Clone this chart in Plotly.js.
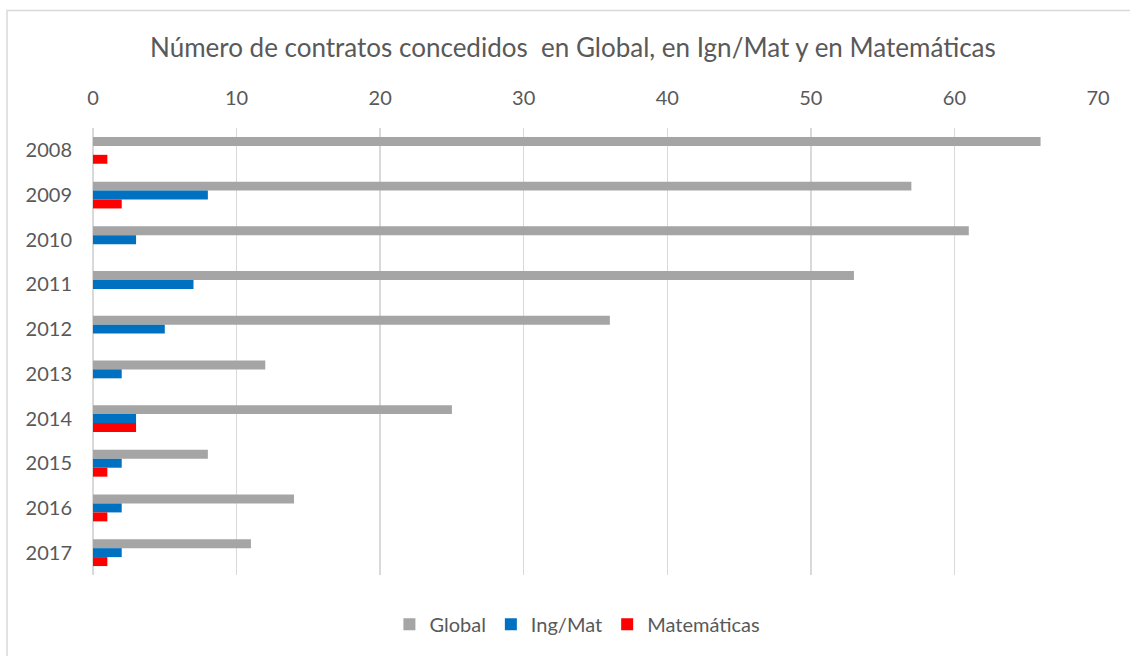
<!DOCTYPE html>
<html><head><meta charset="utf-8">
<script src="https://cdn.plot.ly/plotly-3.0.1.min.js"></script>
<style>body{margin:0;background:#fff}#c{width:1130px;height:656px}</style>
</head><body><div id="c"></div>
<script>
const years = ['2008','2009','2010','2011','2012','2013','2014','2015','2016','2017'];
const globalVals = [66,57,61,53,36,12,25,8,14,11];
const ingMatVals = [0,8,3,7,5,2,3,2,2,2];
const matVals = [1,2,0,0,0,0,3,1,1,1];
const seriesNames = ['Global','Ing/Mat','Matemáticas'];
const colors = ['#A5A5A5','#0070C0','#FF0000'];
const font = 'Lato, "Open Sans", sans-serif';
const traces = [globalVals, ingMatVals, matVals].map((v,i)=>({
  type:'bar', orientation:'h', y:years, x:v, name:seriesNames[i],
  marker:{color:colors[i]}, hoverinfo:'x+name'
}));
const layout = {
  width:1130, height:656,
  margin:{l:93, r:32, t:128, b:79},
  paper_bgcolor:'#fff', plot_bgcolor:'#fff',
  font:{family:font, color:'#595959'},
  title:{text:'Número de contratos concedidos  en Global, en Ign/Mat y en Matemáticas',
    font:{size:26, color:'#595959', family:font}, x:0.507, xanchor:'center',
    yref:'container', y:1-48/656, yanchor:'middle'},
  barmode:'group', bargap:0.4, bargroupgap:0,
  xaxis:{side:'top', range:[0,70], dtick:10, tick0:0, showgrid:true, gridcolor:'#D9D9D9', gridwidth:1.5,
    zeroline:true, zerolinecolor:'#D9D9D9', zerolinewidth:1.5, showline:false, ticks:'',
    ticklabelstandoff:18, tickfont:{size:20, color:'#595959'}, fixedrange:true},
  yaxis:{type:'category', autorange:'reversed', showgrid:false, zeroline:false, showline:false, ticks:'',
    ticklabelstandoff:20, tickfont:{size:20, color:'#595959'}, fixedrange:true},
  legend:{orientation:'h', x:0.482, xanchor:'center', y:-0.11, yanchor:'middle',
    font:{size:20, color:'#595959'}, traceorder:'normal', itemwidth:30},
  showlegend:true,
  shapes:[{type:'rect', xref:'paper', yref:'paper', x0:-86/1005, x1:1.04, y0:-0.2, y1:(577-10)/449,
    line:{color:'#D9D9D9', width:1.5}, fillcolor:'rgba(0,0,0,0)'}]
};
Plotly.newPlot('c', traces, layout, {displayModeBar:false, staticPlot:true});
</script></body></html>
